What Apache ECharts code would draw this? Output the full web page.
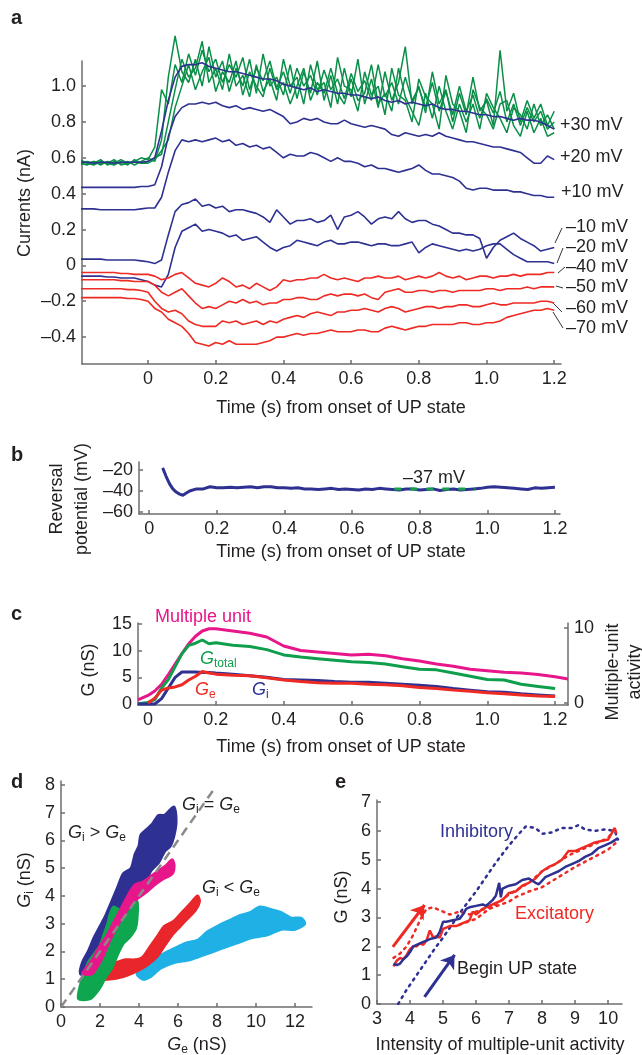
<!DOCTYPE html>
<html><head><meta charset="utf-8">
<script src="https://cdn.jsdelivr.net/npm/echarts@6/dist/echarts.min.js"></script>
<style>html,body{margin:0;padding:0;background:#fff}#c{width:642px;height:1055px}</style>
</head><body><div id="c"></div><script>
// ---------- Panel a: currents at different holding potentials ----------
const tA = [-0.20,-0.18,-0.16,-0.14,-0.12,-0.10,-0.08,-0.06,-0.04,-0.02,
 0.00,0.02,0.04,0.06,0.08,0.10,0.12,0.14,0.16,0.18,
 0.20,0.22,0.24,0.26,0.28,0.30,0.32,0.34,0.36,0.38,
 0.40,0.42,0.44,0.46,0.48,0.50,0.52,0.54,0.56,0.58,
 0.60,0.62,0.64,0.66,0.68,0.70,0.72,0.74,0.76,0.78,
 0.80,0.82,0.84,0.86,0.88,0.90,0.92,0.94,0.96,0.98,
 1.00,1.02,1.04,1.06,1.08,1.10,1.12,1.14,1.16,1.18,1.20];
const green1 = [0.58,0.57,0.58,0.56,0.58,0.57,0.59,0.57,0.58,0.60,
 0.59,0.66,0.98,0.90,1.12,1.02,1.18,1.06,1.20,1.08,
 1.15,1.02,1.12,1.05,1.16,0.98,1.10,1.03,1.14,0.99,
 1.08,0.96,1.10,1.00,1.06,0.95,1.09,0.98,1.04,0.93,
 1.07,0.97,1.03,0.92,1.12,0.94,1.02,0.90,1.05,0.92,
 0.99,0.88,1.02,0.86,0.97,0.84,1.00,0.86,0.95,0.82,
 0.93,0.85,0.97,0.80,0.90,0.78,0.88,0.80,0.86,0.76,0.80];
const green2 = [0.56,0.58,0.57,0.59,0.56,0.58,0.57,0.58,0.56,0.58,
 0.60,0.58,0.70,1.05,1.28,1.08,1.02,1.15,1.00,1.22,
 1.05,1.14,0.97,1.10,1.00,1.15,0.96,1.18,1.00,1.05,
 0.95,1.12,0.93,1.08,0.96,1.14,0.92,1.06,0.90,1.10,
 0.94,1.15,0.90,1.04,0.88,1.08,0.92,1.02,1.22,0.90,
 1.00,0.85,1.08,0.90,0.98,0.80,0.96,0.84,1.05,0.86,
 0.92,0.78,1.20,0.86,0.96,0.80,0.92,0.82,0.90,0.78,0.86];
const green3 = [0.57,0.56,0.58,0.57,0.57,0.56,0.58,0.56,0.59,0.57,
 0.58,0.60,0.62,0.80,0.98,1.15,1.05,1.10,1.25,1.02,
 1.10,0.98,1.18,1.00,1.06,0.94,1.12,0.97,1.04,0.92,
 1.15,1.00,1.05,0.90,1.12,0.98,1.02,0.88,1.16,1.00,
 0.98,0.86,1.08,0.95,1.00,0.84,1.10,0.95,0.92,0.80,
 1.04,0.94,0.90,0.76,1.06,0.90,0.86,0.74,0.98,0.88,
 0.84,0.76,0.90,0.92,0.78,0.72,0.86,0.74,0.82,0.72,0.74];
const green4 = [0.59,0.57,0.56,0.58,0.57,0.59,0.56,0.57,0.58,0.57,
 0.57,0.59,0.64,0.70,0.88,1.00,1.12,0.98,1.08,1.16,
 0.97,1.08,1.02,1.14,0.95,1.08,1.00,0.94,1.10,0.98,
 1.02,0.90,1.00,1.10,0.92,1.02,0.96,1.10,0.96,0.90,
 1.04,0.92,0.96,1.12,0.90,0.96,0.86,1.10,0.94,0.86,
 0.78,0.96,0.82,1.00,0.86,0.76,0.90,0.80,0.90,0.76,
 0.96,0.88,0.82,0.74,0.88,0.84,0.76,0.90,0.78,0.84,0.76];
const bluePlus30 = [0.575,0.575,0.57,0.575,0.575,0.57,0.575,0.575,0.575,0.575,
 0.58,0.60,0.75,0.92,1.05,1.11,1.12,1.12,1.13,1.11,
 1.10,1.09,1.08,1.08,1.07,1.06,1.05,1.04,1.04,1.03,
 1.01,1.00,0.99,0.98,0.99,0.97,0.98,0.97,0.96,0.96,
 0.95,0.95,0.94,0.93,0.94,0.92,0.91,0.92,0.90,0.91,
 0.90,0.89,0.90,0.88,0.87,0.87,0.86,0.86,0.85,0.84,
 0.84,0.83,0.83,0.82,0.81,0.82,0.81,0.81,0.80,0.78,0.76];
const bluePlus20 = [0.435,0.435,0.435,0.435,0.435,0.435,0.435,0.435,0.435,0.44,
 0.44,0.45,0.55,0.72,0.83,0.88,0.90,0.90,0.91,0.90,
 0.91,0.89,0.88,0.89,0.87,0.88,0.87,0.86,0.87,0.85,
 0.83,0.79,0.80,0.82,0.81,0.82,0.80,0.79,0.79,0.81,
 0.79,0.78,0.77,0.78,0.77,0.76,0.73,0.72,0.74,0.73,
 0.72,0.73,0.72,0.74,0.72,0.71,0.70,0.69,0.69,0.68,
 0.67,0.66,0.66,0.65,0.64,0.63,0.60,0.57,0.57,0.61,0.59];
const bluePlus10 = [0.315,0.315,0.315,0.31,0.31,0.31,0.31,0.31,0.31,0.315,
 0.32,0.32,0.38,0.52,0.64,0.70,0.69,0.70,0.69,0.70,
 0.71,0.69,0.70,0.67,0.68,0.66,0.67,0.65,0.66,0.63,
 0.60,0.62,0.61,0.61,0.63,0.62,0.60,0.58,0.60,0.58,
 0.58,0.57,0.55,0.56,0.54,0.54,0.53,0.52,0.53,0.54,
 0.56,0.53,0.51,0.51,0.50,0.49,0.47,0.43,0.42,0.43,
 0.43,0.42,0.42,0.42,0.41,0.41,0.40,0.39,0.39,0.38,0.38];
const blueMinus10 = [0.035,0.035,0.035,0.035,0.03,0.03,0.03,0.03,0.03,0.025,
 0.02,0.01,0.03,0.17,0.30,0.34,0.35,0.37,0.33,0.34,
 0.32,0.33,0.30,0.31,0.31,0.30,0.29,0.27,0.24,0.31,
 0.27,0.23,0.25,0.25,0.26,0.24,0.25,0.28,0.20,0.27,
 0.28,0.30,0.27,0.23,0.26,0.27,0.26,0.30,0.26,0.24,
 0.25,0.25,0.23,0.22,0.20,0.18,0.18,0.17,0.17,0.15,
 0.04,0.10,0.14,0.16,0.18,0.15,0.13,0.11,0.08,0.09,0.10];
const blueMinus20 = [-0.06,-0.06,-0.06,-0.06,-0.065,-0.065,-0.07,-0.07,-0.07,-0.08,
 -0.09,-0.11,-0.12,-0.05,0.10,0.19,0.21,0.23,0.19,0.20,
 0.19,0.18,0.16,0.17,0.14,0.15,0.16,0.13,0.10,0.08,
 0.10,0.11,0.14,0.13,0.12,0.11,0.13,0.14,0.12,0.12,
 0.13,0.13,0.12,0.11,0.12,0.12,0.11,0.11,0.12,0.13,
 0.07,0.10,0.12,0.11,0.10,0.09,0.08,0.09,0.08,0.09,
 0.11,0.12,0.12,0.09,0.06,0.04,0.02,0.02,0.02,0.02,0.01];
const redMinus40 = [-0.04,-0.04,-0.04,-0.04,-0.04,-0.04,-0.045,-0.045,-0.05,-0.05,
 -0.05,-0.06,-0.08,-0.07,-0.05,-0.04,-0.07,-0.10,-0.11,-0.12,
 -0.10,-0.07,-0.09,-0.12,-0.11,-0.13,-0.10,-0.12,-0.14,-0.12,
 -0.08,-0.09,-0.08,-0.08,-0.07,-0.07,-0.05,-0.07,-0.08,-0.07,
 -0.08,-0.09,-0.07,-0.07,-0.06,-0.07,-0.07,-0.06,-0.08,-0.07,
 -0.06,-0.07,-0.06,-0.04,-0.06,-0.07,-0.06,-0.08,-0.07,-0.06,
 -0.06,-0.07,-0.06,-0.06,-0.05,-0.06,-0.05,-0.05,-0.05,-0.04,-0.04];
const redMinus50 = [-0.08,-0.08,-0.08,-0.08,-0.08,-0.08,-0.085,-0.085,-0.09,-0.09,
 -0.09,-0.11,-0.15,-0.17,-0.15,-0.13,-0.17,-0.21,-0.24,-0.23,
 -0.24,-0.22,-0.20,-0.21,-0.19,-0.21,-0.20,-0.22,-0.21,-0.21,
 -0.19,-0.19,-0.18,-0.18,-0.19,-0.19,-0.17,-0.16,-0.17,-0.16,
 -0.16,-0.17,-0.16,-0.18,-0.19,-0.15,-0.14,-0.13,-0.15,-0.15,
 -0.14,-0.14,-0.15,-0.14,-0.14,-0.15,-0.14,-0.14,-0.14,-0.14,
 -0.13,-0.13,-0.14,-0.13,-0.13,-0.13,-0.12,-0.13,-0.12,-0.12,-0.12];
const redMinus60 = [-0.13,-0.13,-0.13,-0.13,-0.13,-0.13,-0.13,-0.135,-0.135,-0.14,
 -0.15,-0.20,-0.24,-0.26,-0.25,-0.27,-0.31,-0.33,-0.34,-0.34,
 -0.34,-0.31,-0.32,-0.31,-0.33,-0.32,-0.31,-0.33,-0.31,-0.32,
 -0.30,-0.29,-0.28,-0.29,-0.27,-0.26,-0.27,-0.28,-0.26,-0.26,
 -0.25,-0.25,-0.24,-0.25,-0.26,-0.24,-0.23,-0.24,-0.26,-0.25,
 -0.24,-0.23,-0.23,-0.24,-0.23,-0.23,-0.22,-0.22,-0.23,-0.23,
 -0.22,-0.21,-0.22,-0.22,-0.21,-0.21,-0.21,-0.21,-0.20,-0.20,-0.21];
const redMinus70 = [-0.18,-0.18,-0.18,-0.18,-0.18,-0.18,-0.18,-0.185,-0.185,-0.19,
 -0.20,-0.24,-0.26,-0.30,-0.32,-0.34,-0.38,-0.43,-0.44,-0.45,
 -0.43,-0.44,-0.42,-0.44,-0.44,-0.44,-0.44,-0.43,-0.42,-0.40,
 -0.40,-0.39,-0.38,-0.39,-0.38,-0.38,-0.37,-0.36,-0.37,-0.37,
 -0.37,-0.36,-0.36,-0.37,-0.37,-0.35,-0.34,-0.35,-0.36,-0.35,
 -0.34,-0.34,-0.33,-0.33,-0.33,-0.33,-0.32,-0.32,-0.33,-0.33,
 -0.32,-0.32,-0.31,-0.29,-0.28,-0.27,-0.26,-0.25,-0.25,-0.24,-0.25];
const tracesA_labels = ['+30 mV','+20 mV','+10 mV','\u201310 mV','\u201320 mV','\u201340 mV','\u201350 mV','\u201360 mV','\u201370 mV'];
const ticksA_x = [0,0.2,0.4,0.6,0.8,1.0,1.2];
const labelsA_x = ['0','0.2','0.4','0.6','0.8','1.0','1.2'];
const ticksA_y = [-0.4,-0.2,0,0.2,0.4,0.6,0.8,1.0];
const labelsA_y = ['\u20130.4','\u20130.2','0','0.2','0.4','0.6','0.8','1.0'];

// ---------- Panel b: reversal potential ----------
const tB = [0.04,0.05,0.06,0.07,0.08,0.09,0.10,0.11,0.12,
 0.14,0.16,0.18,0.20,0.22,0.24,0.26,0.28,0.30,0.32,0.34,0.36,0.38,0.40,
 0.42,0.44,0.46,0.48,0.50,0.52,0.54,0.56,0.58,0.60,
 0.62,0.64,0.66,0.68,0.70,0.72,0.74,0.76,0.78,0.80,
 0.82,0.84,0.86,0.88,0.90,0.92,0.94,0.96,0.98,1.00,
 1.02,1.04,1.06,1.08,1.10,1.12,1.14,1.16,1.18,1.20];
const revPot = [-18,-26,-33,-38,-41,-43,-44,-42,-40,
 -38,-38,-36,-37,-37,-36.5,-37,-36.5,-36,-37,-36,-36,-37,-37,
 -37.5,-37,-38,-38,-38.5,-38,-37.5,-38.5,-38,-38.5,
 -39,-38,-38.5,-37.5,-38,-38.5,-39,-38,-38,-39,
 -38.5,-38,-39.5,-38.5,-38,-39,-38.5,-38,-37.5,-36.5,
 -36,-36.5,-37,-37.5,-38,-38.5,-37,-37.5,-37,-36.5];
const meanRevT = [0.725,0.965];
const meanRevV = [-38.2,-38.2];
const ticksB_y = [-60,-40,-20];
const labelsB_y = ['\u201360','\u201340','\u201320'];

// ---------- Panel c: conductances and multi-unit activity ----------
const tC = [-0.03,0,0.02,0.04,0.06,0.08,0.10,0.12,0.14,0.16,0.18,0.20,0.25,0.30,0.35,0.40,0.45,0.50,
 0.55,0.60,0.65,0.70,0.75,0.80,0.85,0.90,0.95,1.00,1.05,1.10,1.15,1.20,1.238];
const multiUnit = [0.4,1.0,1.6,2.5,3.8,5.2,6.6,7.9,8.9,9.6,9.9,9.9,9.6,9.3,8.8,7.6,7.0,6.8,
 6.6,6.4,6.5,6.3,5.9,5.6,5.2,4.9,4.5,4.3,4.1,4.0,3.8,3.5,3.2];
const gTotal = [0.05,0.3,0.8,3.0,4.6,7.0,9.4,11.0,11.4,12.0,11.3,11.5,11.0,10.8,10.2,9.2,8.8,8.5,
 8.2,7.9,7.8,7.5,7.0,6.5,6.4,5.8,5.2,4.6,4.5,3.7,3.3,2.9,null];
const gInh = [0,0,0,1.0,3.0,5.0,6.0,6.0,6.0,5.9,5.9,5.8,5.6,5.3,5.0,4.6,4.5,4.4,
 4.2,4.1,4.1,3.9,3.7,3.5,3.3,2.9,2.6,2.3,2.2,1.9,1.7,1.5,null];
const gExc = [null,0.2,1.1,2.6,3.0,3.2,3.6,4.5,5.2,6.1,5.8,5.6,5.4,5.3,4.9,4.5,4.2,4.0,
 3.9,3.9,3.7,3.6,3.4,3.1,2.9,2.6,2.4,2.1,1.9,1.7,1.5,1.4,null];
const ticksC_y = [0,5,10,15];
const ticksC_r = [0,10];

// ---------- Panel d: Gi vs Ge trajectories (outlines of point clouds) ----------
const cloudLightBlue = [[3.9,1.2],[4.2,1.0],[4.6,1.1],[5.1,1.4],[5.8,1.6],[6.6,1.7],[7.4,1.9],[8.2,2.1],[9.0,2.3],[9.8,2.5],[10.6,2.6],[11.3,2.8],[12.0,2.8],[12.5,3.0],[12.3,3.2],[11.8,3.2],[11.3,3.4],[10.8,3.5],[10.2,3.6],[9.7,3.4],[9.2,3.3],[8.6,3.1],[8.0,2.9],[7.5,2.7],[7.0,2.4],[6.4,2.3],[5.8,2.1],[5.2,1.9],[4.7,1.7],[4.3,1.5]];
const cloudRed = [[1.5,1.3],[1.7,1.0],[2.4,1.0],[3.2,1.1],[3.9,1.3],[4.4,1.5],[4.9,1.8],[5.3,2.2],[5.7,2.6],[6.1,2.9],[6.5,3.2],[6.9,3.5],[7.1,3.8],[7.0,4.0],[6.6,3.7],[6.2,3.4],[5.8,3.1],[5.3,2.9],[5.0,2.6],[4.6,2.2],[4.2,1.8],[3.8,1.7],[3.3,1.7],[2.8,1.6],[2.2,1.6],[1.8,1.5]];
const cloudNavy = [[1.0,1.2],[1.4,1.2],[1.7,1.6],[2.1,2.2],[2.5,2.6],[2.9,3.0],[3.3,3.4],[3.6,3.8],[3.9,4.0],[4.3,4.4],[4.6,4.9],[5.0,5.2],[5.3,5.6],[5.6,5.8],[5.8,6.2],[5.9,6.7],[5.8,7.2],[5.6,7.1],[5.3,6.9],[5.0,6.9],[4.7,6.6],[4.4,6.4],[4.1,6.2],[4.0,5.8],[3.8,5.5],[3.6,5.0],[3.2,4.8],[2.9,4.3],[2.6,3.8],[2.3,3.3],[2.0,2.9],[1.7,2.5],[1.4,2.0],[1.1,1.6]];
const cloudGreen = [[0.9,0.3],[1.5,0.3],[2.0,0.7],[2.3,1.1],[2.6,1.4],[2.9,1.9],[3.2,2.3],[3.5,2.5],[3.8,2.8],[3.9,3.2],[3.9,3.8],[3.6,3.9],[3.3,3.6],[3.0,3.5],[2.7,3.6],[2.5,3.3],[2.4,3.0],[2.2,2.6],[2.0,2.2],[1.7,1.9],[1.4,1.6],[1.2,1.2],[1.0,0.8]];
const cloudMagenta = [[1.1,1.2],[1.6,1.2],[1.9,1.5],[2.2,1.9],[2.5,2.4],[2.8,2.8],[3.1,3.2],[3.5,3.6],[3.9,3.9],[4.3,4.1],[4.8,4.4],[5.2,4.6],[5.7,4.8],[5.8,5.1],[5.7,5.3],[5.4,5.1],[5.0,4.9],[4.6,4.7],[4.2,4.5],[3.8,4.4],[3.5,4.1],[3.2,3.7],[2.9,3.3],[2.6,2.9],[2.3,2.5],[2.0,2.2],[1.7,1.8],[1.4,1.5]];
const identityLine = [[0,0],[7.85,7.85]];
const ticksD_x = [0,2,4,6,8,10,12];
const ticksD_y = [0,1,2,3,4,5,6,7,8];

// ---------- Panel e: G vs multiple-unit activity ----------
const inhRise = [[3.64,0],[3.9,0.5],[4.2,1.0],[4.5,1.5],[4.8,2.0],[5.0,2.3],[5.3,2.8],[5.6,3.3],[6.0,3.9],[6.3,4.4],[6.6,4.9],[7.0,5.5],[7.3,5.9],[7.5,6.15],[7.8,6.1],[8.0,5.9],[8.3,5.95],[8.6,6.1],[8.9,6.1],[9.1,6.2],[9.3,6.05],[9.6,6.0],[9.9,6.05],[10.2,6.0],[10.3,5.7]];
const excRise = [[3.5,1.6],[3.7,1.75],[3.9,2.0],[4.1,2.4],[4.3,2.9],[4.5,3.3],[4.7,3.35],[5.0,3.2],[5.2,3.1],[5.5,3.2],[5.8,3.1],[6.0,3.2],[6.3,3.3],[6.6,3.45],[7.0,3.8],[7.3,4.0],[7.6,4.2],[8.0,4.6],[8.4,4.85],[8.8,5.15],[9.2,5.35],[9.6,5.55],[10.0,5.75],[10.2,6.1]];
const excLower = [[5.5,2.75],[6.0,2.95],[6.4,3.3],[7.0,3.55],[7.2,3.7],[7.6,3.9],[8.0,4.05],[8.5,4.4],[9.0,4.75],[9.5,5.05],[10.0,5.35],[10.25,5.6]];
const excMain = [[3.5,1.3],[3.6,1.5],[3.7,1.6],[3.8,1.55],[3.9,1.7],[4.0,1.9],[4.1,2.0],[4.2,2.0],[4.3,2.1],[4.4,2.05],[4.5,2.2],[4.6,2.55],[4.7,2.3],[4.8,2.35],[4.9,2.3],[5.0,2.6],[5.1,2.65],[5.2,2.7],[5.4,2.7],[5.6,2.8],[5.8,2.9],[5.9,3.2],[6.0,3.1],[6.2,3.3],[6.4,3.4],[6.6,3.5],[6.8,3.6],[7.0,3.85],[7.2,3.9],[7.4,4.1],[7.6,4.2],[7.8,4.35],[8.0,4.6],[8.2,4.75],[8.4,4.85],[8.6,5.0],[8.8,5.3],[9.0,5.3],[9.2,5.4],[9.4,5.5],[9.6,5.6],[9.8,5.65],[10.0,5.7],[10.2,6.1],[10.25,5.9]];
const inhMain = [[3.5,1.4],[3.6,1.35],[3.7,1.4],[3.8,1.55],[3.9,1.65],[4.0,1.8],[4.1,2.0],[4.2,2.05],[4.4,2.15],[4.5,2.2],[4.6,2.25],[4.8,2.3],[4.9,2.5],[5.0,2.85],[5.1,2.85],[5.3,2.9],[5.5,2.95],[5.6,3.1],[5.7,3.3],[5.8,3.35],[6.0,3.4],[6.2,3.45],[6.3,3.4],[6.5,3.6],[6.6,3.75],[6.7,4.2],[6.75,3.7],[6.8,4.0],[7.0,4.1],[7.2,4.15],[7.4,4.3],[7.6,4.35],[7.8,4.2],[7.9,4.15],[8.1,4.4],[8.3,4.5],[8.5,4.6],[8.7,4.75],[8.9,4.85],[9.1,4.95],[9.3,5.1],[9.5,5.2],[9.7,5.4],[9.9,5.5],[10.1,5.6],[10.3,5.75]];
const arrowRed = [[3.48,1.98],[4.44,3.43]];
const arrowBlue = [[4.44,0.25],[5.35,1.70]];
const ticksE_x = [3,4,5,6,7,8,9,10];
const ticksE_y = [0,1,2,3,4,5,6,7];

// ---------- styling ----------
const FONT = '"Liberation Sans", Arial, Helvetica, sans-serif';
const TXT = '#231f20', AX = '#6d6e71';
const GREEN = '#0a8f48', NAVY = '#2e3192', RED = '#ee2a24', MAG = '#e8168b', LBLUE = '#1fb0e6', GRAY = '#8a8a8a';

function zip(t, v) { return t.map((x, i) => [x, v[i]]); }
function fmtFrom(ticks, labels) {
  return v => { for (let i = 0; i < ticks.length; i++) if (Math.abs(ticks[i] - v) < 1e-6) return labels ? labels[i] : String(ticks[i]); return ''; };
}
function ax(grid, min, max, ticks, labels, extra) {
  return Object.assign({
    type: 'value', gridIndex: grid, min, max, splitLine: { show: false },
    axisLine: { show: true, onZero: false, lineStyle: { color: AX, width: 1.5 } },
    axisTick: { show: true, inside: true, length: 4, customValues: ticks, lineStyle: { color: AX, width: 1.5 } },
    axisLabel: { customValues: ticks, formatter: fmtFrom(ticks, labels), color: TXT, fontSize: 18, fontFamily: FONT, margin: 6 }
  }, extra || {});
}
function line(xi, yi, data, color, width, extra) {
  return Object.assign({ type: 'line', xAxisIndex: xi, yAxisIndex: yi, data, showSymbol: false, symbol: 'none',
    lineStyle: { color, width }, itemStyle: { color }, silent: true, connectNulls: false }, extra || {});
}
function cloud(poly, color) {
  return { type: 'custom', xAxisIndex: 3, yAxisIndex: 4, coordinateSystem: 'cartesian2d', silent: true,
    data: [poly[0]],
    renderItem: (params, api) => ({ type: 'polygon', shape: { points: poly.map(p => api.coord(p)), smooth: 0.25 },
      style: { fill: color, stroke: color, lineWidth: 3, lineJoin: 'round' } }) };
}
const richG = {
  g: { fontStyle: 'italic', fontSize: 18, fontFamily: FONT },
  s: { fontSize: 12, fontFamily: FONT, lineHeight: 6, verticalAlign: 'bottom' },
  n: { fontSize: 18, fontFamily: FONT }
};
function richFill(color) {
  const r = {}; for (const k in richG) r[k] = Object.assign({ fill: color }, richG[k]); return r;
}
function T(x, y, text, o) {
  o = o || {};
  const color = o.fill || TXT;
  return { type: 'text', x, y, rotation: o.rot || 0, silent: true,
    style: { text, fill: color, fontSize: o.size || 18, fontFamily: FONT, fontWeight: o.weight || 'normal',
      align: o.align || 'left', verticalAlign: 'middle', lineHeight: o.lh || 22, rich: o.rich ? richFill(color) : undefined } };
}
function L(x1, y1, x2, y2) {
  return { type: 'line', silent: true, shape: { x1, y1, x2, y2 }, style: { stroke: '#333', lineWidth: 1 } };
}

const series = [
  line(0, 0, zip(tA, green1), GREEN, 1.5, { clip: false }),
  line(0, 0, zip(tA, green2), GREEN, 1.5, { clip: false }),
  line(0, 0, zip(tA, green3), GREEN, 1.5, { clip: false }),
  line(0, 0, zip(tA, green4), GREEN, 1.5, { clip: false }),
  line(0, 0, zip(tA, bluePlus30), NAVY, 1.6),
  line(0, 0, zip(tA, bluePlus20), NAVY, 1.6),
  line(0, 0, zip(tA, bluePlus10), NAVY, 1.6),
  line(0, 0, zip(tA, blueMinus10), NAVY, 1.6),
  line(0, 0, zip(tA, blueMinus20), NAVY, 1.6),
  line(0, 0, zip(tA, redMinus40), RED, 1.6),
  line(0, 0, zip(tA, redMinus50), RED, 1.6),
  line(0, 0, zip(tA, redMinus60), RED, 1.6),
  line(0, 0, zip(tA, redMinus70), RED, 1.6),
  // b
  line(1, 1, zip(tB, revPot), NAVY, 3),
  line(1, 1, zip(meanRevT, meanRevV), '#16a04b', 3, { lineStyle: { color: '#16a04b', width: 3, type: [7, 9] } }),
  // c
  line(2, 3, zip(tC, multiUnit), MAG, 3),
  line(2, 2, zip(tC, gTotal), '#0f9e4c', 3),
  line(2, 2, zip(tC, gInh), NAVY, 3),
  line(2, 2, zip(tC, gExc), RED, 3),
  // d
  cloud(cloudLightBlue, LBLUE),
  cloud(cloudRed, '#e8262b'),
  cloud(cloudNavy, NAVY),
  cloud(cloudGreen, '#0fa650'),
  cloud(cloudMagenta, MAG),
  line(3, 4, identityLine, GRAY, 2.5, { lineStyle: { color: GRAY, width: 2.5, type: [9, 6] } }),
  // e
  line(4, 5, inhRise, NAVY, 2.5, { lineStyle: { color: NAVY, width: 2.5, type: [2, 5], cap: 'round' } }),
  line(4, 5, excRise, RED, 2.5, { lineStyle: { color: RED, width: 2.5, type: [2, 5], cap: 'round' } }),
  line(4, 5, excLower, RED, 2.5, { lineStyle: { color: RED, width: 2.5, type: [2, 5], cap: 'round' } }),
  line(4, 5, excMain, RED, 2.5, {
    markLine: { silent: true, animation: false, symbol: ['none', 'arrow'], symbolSize: 13, label: { show: false },
      lineStyle: { color: RED, width: 3, type: 'solid' },
      data: [[{ coord: arrowRed[0] }, { coord: arrowRed[1] }]] } }),
  line(4, 5, inhMain, NAVY, 2.5, {
    markLine: { silent: true, animation: false, symbol: ['none', 'arrow'], symbolSize: 13, label: { show: false },
      lineStyle: { color: NAVY, width: 3, type: 'solid' },
      data: [[{ coord: arrowBlue[0] }, { coord: arrowBlue[1] }]] } })
];

const graphic = [
  // panel letters
  T(11, 18, 'a', { weight: 'bold', size: 20 }),
  T(11, 455, 'b', { weight: 'bold', size: 20 }),
  T(11, 614, 'c', { weight: 'bold', size: 20 }),
  T(11, 782, 'd', { weight: 'bold', size: 20 }),
  T(335, 782, 'e', { weight: 'bold', size: 20 }),
  // panel a
  T(25, 203, 'Currents (nA)', { align: 'center', rot: Math.PI / 2 }),
  T(341, 408, 'Time (s) from onset of UP state', { align: 'center' }),
  T(560, 125, tracesA_labels[0]), T(560, 157, tracesA_labels[1]), T(561, 192, tracesA_labels[2]),
  T(566, 227, tracesA_labels[3]), T(566, 247, tracesA_labels[4]), T(566, 267, tracesA_labels[5]),
  T(566, 287, tracesA_labels[6]), T(566, 308, tracesA_labels[7]), T(566, 328, tracesA_labels[8]),
  L(555, 243, 562, 228), L(557, 263, 563, 248), L(558, 273, 565, 267), L(556, 286, 563, 288),
  L(553, 303, 562, 312), L(553, 312, 563, 328),
  // panel b
  T(70, 499, 'Reversal\npotential (mV)', { align: 'center', rot: Math.PI / 2, lh: 25 }),
  T(403, 478, '\u201337 mV'),
  T(341, 552, 'Time (s) from onset of UP state', { align: 'center' }),
  // panel c
  T(89, 670, 'G (nS)', { align: 'center', rot: Math.PI / 2 }),
  T(624, 672, 'Multiple-unit\nactivity', { align: 'center', rot: Math.PI / 2, lh: 22 }),
  T(155, 617, 'Multiple unit', { fill: MAG }),
  T(200, 659, '{g|G}{s|total}', { fill: '#0f9e4c', rich: true }),
  T(195, 690, '{g|G}{s|e}', { fill: RED, rich: true }),
  T(252, 690, '{g|G}{s|i}', { fill: NAVY, rich: true }),
  T(341, 747, 'Time (s) from onset of UP state', { align: 'center' }),
  // panel d
  T(25, 880, '{g|G}{s|i}{n| (nS)}', { align: 'center', rot: Math.PI / 2, rich: true }),
  T(197, 1045, '{g|G}{s|e}{n| (nS)}', { align: 'center', rich: true }),
  T(182, 805, '{g|G}{s|i}{n| = }{g|G}{s|e}', { rich: true }),
  T(68, 833, '{g|G}{s|i}{n| > }{g|G}{s|e}', { rich: true }),
  T(202, 888, '{g|G}{s|i}{n| < }{g|G}{s|e}', { rich: true }),
  // panel e
  T(342, 897, 'G (nS)', { align: 'center', rot: Math.PI / 2 }),
  T(500, 1045, 'Intensity of multiple-unit activity', { align: 'center' }),
  T(440, 832, 'Inhibitory', { fill: NAVY }),
  T(515, 914, 'Excitatory', { fill: RED }),
  T(457, 969, 'Begin UP state')
];

const option = {
  animation: false,
  backgroundColor: '#fff',
  grid: [
    { left: 82, top: 61, width: 479, height: 303 },
    { left: 139, top: 462, width: 421, height: 52 },
    { left: 138, top: 623, width: 430, height: 82 },
    { left: 61, top: 781, width: 251, height: 226 },
    { left: 377, top: 800, width: 245, height: 204 }
  ],
  xAxis: [
    ax(0, -0.195, 1.22, ticksA_x, labelsA_x, {}),
    ax(1, -0.03, 1.215, ticksA_x, labelsA_x, {}),
    ax(2, -0.0295, 1.238, ticksA_x, labelsA_x, {}),
    ax(3, 0, 12.87, ticksD_x, null, {}),
    ax(4, 3, 10.42, ticksE_x, null, {})
  ],
  yAxis: [
    ax(0, -0.55, 1.14, ticksA_y, labelsA_y, {}),
    ax(1, -61.9, -12.4, ticksB_y, labelsB_y, {}),
    ax(2, -0.19, 15.19, ticksC_y, null, {}),
    ax(2, -0.27, 10.67, ticksC_r, null, { position: 'right' }),
    ax(3, 0, 8.14, ticksD_y, null, {}),
    ax(4, 0, 7.07, ticksE_y, null, {})
  ],
  series,
  graphic
};
const chart = echarts.init(document.getElementById('c'), null, { renderer: 'canvas' });
chart.setOption(option);
</script></body></html>
